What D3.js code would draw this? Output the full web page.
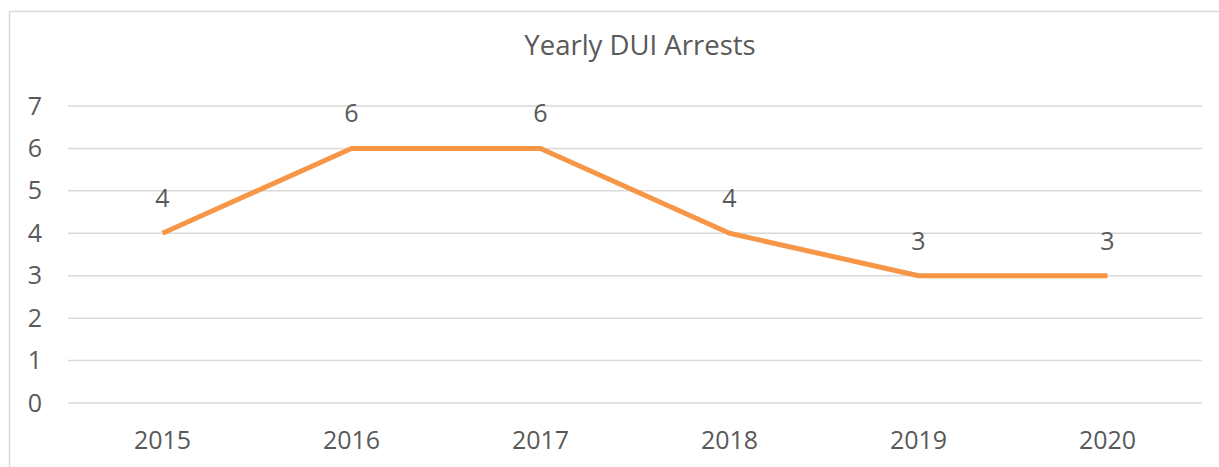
<!DOCTYPE html>
<html>
<head>
<meta charset="utf-8">
<script src="https://cdn.jsdelivr.net/npm/d3@7"></script>
<style>
  body { margin: 0; background: #fff; }
  text { font-family: "Open Sans", "Noto Sans", sans-serif; fill: #595959; }
</style>
</head>
<body>
<div id="chart"></div>
<script>
const years = ["2015", "2016", "2017", "2018", "2019", "2020"];
const arrests = [4, 6, 6, 4, 3, 3];
const yTicks = [0, 1, 2, 3, 4, 5, 6, 7];

const svgWidth = 1219, svgHeight = 467;
const margin = { top: 106, right: 17, bottom: 64, left: 68 };
const width = svgWidth - margin.left - margin.right;
const height = svgHeight - margin.top - margin.bottom;

const svg = d3.select("#chart").append("svg")
  .attr("width", svgWidth)
  .attr("height", svgHeight);

// chart frame
svg.append("rect")
  .attr("x", 9.5).attr("y", 11.5)
  .attr("width", 1240).attr("height", 500)
  .attr("fill", "none")
  .attr("stroke", "#d9d9d9")
  .attr("stroke-width", 1.5);

svg.append("text")
  .attr("x", 640)
  .attr("y", 55)
  .attr("text-anchor", "middle")
  .style("font-size", "27.5px")
  .text("Yearly DUI Arrests");

const chart = svg.append("g")
  .attr("transform", `translate(${margin.left},${margin.top})`);

const x = d3.scaleBand().domain(years).range([0, width]);
const y = d3.scaleLinear().domain([0, 7]).range([height, 0]);

// gridlines
chart.append("g")
  .selectAll("line")
  .data(yTicks)
  .join("line")
  .attr("x1", 0).attr("x2", width)
  .attr("y1", d => y(d)).attr("y2", d => y(d))
  .attr("stroke", "#d9d9d9")
  .attr("stroke-width", 1.5);

const yAxis = chart.append("g")
  .call(d3.axisLeft(y).tickValues(yTicks).tickFormat(d3.format("d")).tickSize(0).tickPadding(26));
yAxis.select(".domain").remove();
yAxis.selectAll("text").style("font-size", "25px").attr("fill", "#595959");

const xAxis = chart.append("g")
  .attr("transform", `translate(0,${height})`)
  .call(d3.axisBottom(x).tickSize(0).tickPadding(28));
xAxis.select(".domain").remove();
xAxis.selectAll("text").style("font-size", "25px").attr("fill", "#595959");

const points = years.map((yr, i) => ({ year: yr, value: arrests[i] }));

const line = d3.line()
  .x(d => x(d.year) + x.bandwidth() / 2)
  .y(d => y(d.value));

chart.append("path")
  .datum(points)
  .attr("d", line)
  .attr("fill", "none")
  .attr("stroke", "#f79646")
  .attr("stroke-width", 5)
  .attr("stroke-linejoin", "round");

chart.append("g")
  .selectAll("text")
  .data(points)
  .join("text")
  .attr("x", d => x(d.year) + x.bandwidth() / 2)
  .attr("y", d => y(d.value) - 26)
  .attr("text-anchor", "middle")
  .style("font-size", "25px")
  .attr("fill", "#404040")
  .text(d => d.value);
</script>
</body>
</html>
